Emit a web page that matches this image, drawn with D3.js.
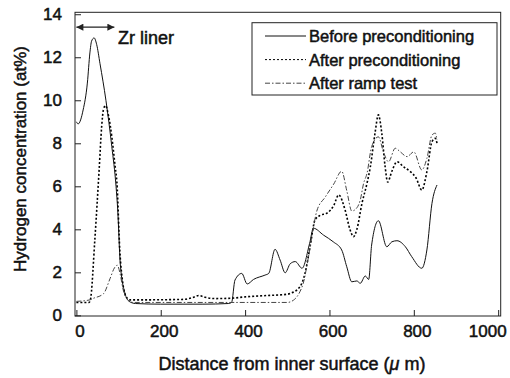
<!DOCTYPE html>
<html>
<head>
<meta charset="utf-8">
<script src="https://cdnjs.cloudflare.com/ajax/libs/d3/7.8.5/d3.min.js"></script>
<style>
  body { margin: 0; background: #fff; }
  text { font-family: "Liberation Sans", Arial, sans-serif; font-weight: normal; fill: #111; stroke: #111; stroke-width: 0.5px; }
</style>
</head>
<body>
<div id="chart"></div>
<script>
// values
var seriesNames = ['Before preconditioning', 'After preconditioning', 'After ramp test']

var beforeX = [0, 4, 16, 26, 32, 36, 42, 48, 56, 70, 84, 94, 98, 104, 115, 125, 140, 200, 300, 360, 368, 376, 392, 405, 420, 447, 456, 471, 483, 495, 507, 519, 535, 553, 562, 586, 609, 629, 641, 653, 665, 673, 685, 693, 700, 716, 736, 748, 760, 780, 795, 819, 831, 843, 855]
var beforeY = [9.0, 8.9, 9.55, 10.8, 12.2, 12.75, 12.9, 12.6, 11.7, 10.0, 7.84, 6.0, 4.9, 2.4, 1.04, 0.65, 0.55, 0.52, 0.52, 0.55, 0.6, 1.64, 1.95, 1.46, 1.67, 1.87, 1.95, 3.07, 2.57, 1.98, 2.4, 2.5, 2.19, 3.35, 4.05, 3.73, 3.42, 3.04, 2.26, 1.56, 1.6, 1.49, 1.83, 1.67, 3.27, 4.4, 3.19, 3.42, 3.47, 3.19, 2.73, 2.19, 3.04, 5.2, 6.06]

var afterX = [0, 30, 33, 44, 54, 60, 64, 69, 76, 84, 92, 96, 103, 110, 116, 127, 150, 250, 275, 290, 305, 330, 370, 400, 450, 500, 507, 530, 542, 554, 566, 578, 594, 610, 622, 637, 649, 657, 665, 677, 689, 697, 708, 716, 724, 732, 738, 748, 760, 776, 792, 805, 819, 831, 843, 851, 855]
var afterY = [0.6, 0.6, 0.7, 3.6, 6.8, 8.8, 9.55, 9.75, 9.3, 8.3, 6.9, 6.2, 3.0, 1.5, 0.95, 0.72, 0.72, 0.74, 0.82, 0.92, 0.84, 0.78, 0.8, 0.86, 0.92, 0.98, 1.02, 1.33, 1.95, 3.19, 4.45, 4.65, 4.75, 5.1, 5.6, 4.9, 3.97, 3.66, 4.0, 5.2, 6.14, 6.91, 8.47, 9.32, 8.47, 6.91, 6.2, 6.7, 7.14, 6.9, 6.68, 6.4, 5.83, 6.68, 8.07, 8.23, 8.0]

var rampX = [0, 32, 40, 64, 80, 90, 97, 104, 111, 123, 135, 300, 500, 515, 530, 538, 550, 562, 570, 590, 610, 629, 641, 653, 665, 673, 681, 689, 700, 716, 728, 740, 756, 768, 784, 800, 819, 831, 843, 851, 855]
var rampY = [0.65, 0.72, 0.79, 1.0, 1.72, 2.2, 2.33, 1.9, 1.18, 0.7, 0.6, 0.6, 0.6, 0.71, 1.1, 1.5, 2.7, 4.1, 4.85, 5.5, 6.1, 6.7, 5.8, 4.85, 5.0, 5.36, 6.14, 6.6, 7.84, 8.3, 7.6, 7.14, 7.77, 7.6, 7.38, 7.6, 6.76, 7.3, 8.38, 8.47, 8.15]

var xTicks = [0, 200, 400, 600, 800, 1000]
var yTicks = [0, 2, 4, 6, 8, 10, 12, 14]
var linerRange = [0, 90]

var width = 510, height = 378

var svg = d3.select('#chart')
    .append('svg')
    .attr('width', width)
    .attr('height', height)

var x = d3.scaleLinear().domain([-3.3, 1006]).range([75, 500.7])
var y = d3.scaleLinear().domain([-0.03, 14.09]).range([316, 12.3])

// frame
svg.append('rect')
    .attr('x', x.range()[0])
    .attr('y', y.range()[1])
    .attr('width', x.range()[1] - x.range()[0])
    .attr('height', y.range()[0] - y.range()[1])
    .attr('fill', 'none')
    .attr('stroke', '#222')
    .attr('stroke-width', 1)

var xAxis = svg.append('g')
    .attr('transform', 'translate(0,' + y.range()[0] + ')')
    .call(d3.axisBottom(x).tickValues(xTicks).tickFormat(d3.format('d')).tickSize(-6).tickPadding(9))
xAxis.select('.domain').remove()
xAxis.selectAll('text').style('font-size', '17px').attr('dx', 3)
xAxis.selectAll('.tick').filter(function(d) { return d == 1000 })
    .select('text').attr('dx', -11)

var yAxis = svg.append('g')
    .attr('transform', 'translate(' + x.range()[0] + ',0)')
    .call(d3.axisLeft(y).tickValues(yTicks).tickSize(-6).tickPadding(13))
yAxis.select('.domain').remove()
yAxis.selectAll('text').style('font-size', '17px')
svg.selectAll('.tick line').attr('stroke', '#222')
svg.selectAll('.tick text').attr('fill', '#111')

// axis titles
svg.append('text')
    .attr('transform', 'translate(26,159) rotate(-90)')
    .attr('text-anchor', 'middle')
    .style('font-size', '17px')
    .text('Hydrogen concentration (at%)')

var xt = svg.append('text')
    .attr('x', 292)
    .attr('y', 370)
    .attr('text-anchor', 'middle')
    .style('font-size', '18px')
xt.append('tspan').text('Distance from inner surface (')
xt.append('tspan').style('font-style', 'italic').text('μ')
xt.append('tspan').text(' m)')

// curves
var series = [
    { name: seriesNames[0], xs: beforeX, ys: beforeY, dash: null, color: '#111', w: 1 },
    { name: seriesNames[1], xs: afterX, ys: afterY, dash: '2,2', color: '#000', w: 1.6 },
    { name: seriesNames[2], xs: rampX, ys: rampY, dash: '5,2,1.5,2', color: '#444', w: 1 }
]

var line = d3.line()
    .x(function(d) { return x(d[0]) })
    .y(function(d) { return y(d[1]) })
    .curve(d3.curveMonotoneX)

svg.append('g')
    .selectAll('path')
    .data(series)
    .enter()
    .append('path')
    .attr('d', function(s) { return line(d3.zip(s.xs, s.ys)) })
    .attr('fill', 'none')
    .attr('stroke', function(s) { return s.color })
    .attr('stroke-width', function(s) { return s.w })
    .attr('stroke-dasharray', function(s) { return s.dash })

// legend
var lg = svg.append('g')
lg.append('rect')
    .attr('x', 252).attr('y', 22.7)
    .attr('width', 245).attr('height', 72.3)
    .attr('fill', '#fff')
    .attr('stroke', '#222')
var rows = lg.selectAll('g.row')
    .data(series)
    .enter()
    .append('g')
    .attr('class', 'row')
    .attr('transform', function(d, i) { return 'translate(0,' + (36 + i * 23.6) + ')' })
rows.append('line')
    .attr('x1', 265).attr('x2', 306)
    .attr('stroke', function(s) { return s.color })
    .attr('stroke-width', function(s) { return s.dash == '2,2' ? 1 : s.w })
    .attr('stroke-dasharray', function(s) { return s.dash })
rows.append('text')
    .attr('x', 309)
    .attr('dy', '0.36em')
    .style('font-size', '16.5px')
    .text(function(s) { return s.name })

// Zr liner arrow
var defs = svg.append('defs')
defs.append('marker')
    .attr('id', 'ah')
    .attr('viewBox', '0 0 10 10')
    .attr('refX', 10).attr('refY', 5)
    .attr('markerWidth', 9).attr('markerHeight', 7)
    .attr('markerUnits', 'userSpaceOnUse')
    .attr('orient', 'auto-start-reverse')
    .append('path')
    .attr('d', 'M0,0L10,5L0,10z')
    .attr('fill', '#222')
svg.append('line')
    .attr('x1', x(linerRange[0])).attr('x2', x(linerRange[1]))
    .attr('y1', y(13.4)).attr('y2', y(13.4))
    .attr('stroke', '#222')
    .attr('stroke-width', 1.2)
    .attr('marker-start', 'url(#ah)')
    .attr('marker-end', 'url(#ah)')
svg.append('text')
    .attr('x', 118)
    .attr('y', 44)
    .style('font-size', '18px')
    .text('Zr liner')
</script>
</body>
</html>
